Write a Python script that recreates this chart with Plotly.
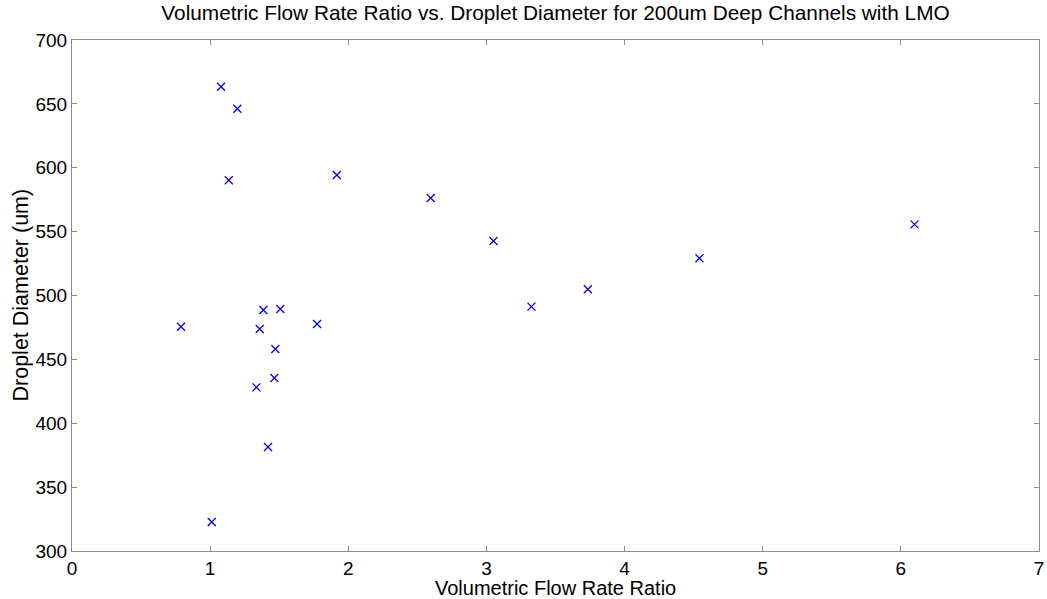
import plotly.graph_objects as go

flow_ratio = [1.079, 1.197, 1.135, 1.917, 2.597, 3.051, 3.326, 3.734, 4.542, 6.099,
              0.789, 1.012, 1.385, 1.508, 1.359, 1.774, 1.472, 1.465, 1.335, 1.419]
droplet_diameter = [663.4, 646.2, 590.2, 594.3, 576.3, 542.7, 491.3, 504.9, 529.1, 555.7,
                    475.6, 322.7, 488.7, 489.4, 473.8, 477.7, 458.1, 435.4, 428.1, 381.4]

x_ticks = [0, 1, 2, 3, 4, 5, 6, 7]
y_ticks = [300, 350, 400, 450, 500, 550, 600, 650, 700]

FONT = "Liberation Sans, Arial"

fig = go.Figure()
fig.add_trace(go.Scatter(
    x=flow_ratio, y=droplet_diameter, mode="markers",
    marker=dict(symbol="x-thin", size=8, color="#0000ff",
                line=dict(width=1.3, color="#0000ff")),
    showlegend=False,
))

axis_common = dict(
    showgrid=False, zeroline=False, showline=True, linecolor="#8c8c8c", linewidth=1,
    mirror="ticks", ticks="inside", ticklen=5, tickcolor="#8c8c8c", tickwidth=1,
    tickfont=dict(family=FONT, size=19, color="#000000"),
    automargin=False,
)

fig.update_layout(
    width=1047, height=599,
    margin=dict(l=72, r=8, t=40, b=48),
    paper_bgcolor="white", plot_bgcolor="white",
    title=dict(text="Volumetric Flow Rate Ratio vs. Droplet Diameter for 200um Deep Channels with LMO",
               xref="paper", x=0.5, xanchor="center", y=0.978, yanchor="middle",
               font=dict(family=FONT, size=20.8, color="#000000")),
    xaxis=dict(range=[0, 7], tickvals=x_ticks, **axis_common),
    yaxis=dict(range=[300, 700], tickvals=y_ticks, **axis_common),
    annotations=[
        dict(text="Volumetric Flow Rate Ratio", xref="paper", yref="paper",
             x=0.5, y=0, yshift=-37, xanchor="center", yanchor="middle", showarrow=False,
             borderpad=0, font=dict(family=FONT, size=20, color="#000000")),
        dict(text="Droplet Diameter (um)", xref="paper", yref="paper",
             x=0, y=0.5, xshift=-52, xanchor="center", yanchor="middle", showarrow=False,
             borderpad=0, textangle=-90, font=dict(family=FONT, size=21.5, color="#000000")),
    ],
)

fig.write_html("out.html")
